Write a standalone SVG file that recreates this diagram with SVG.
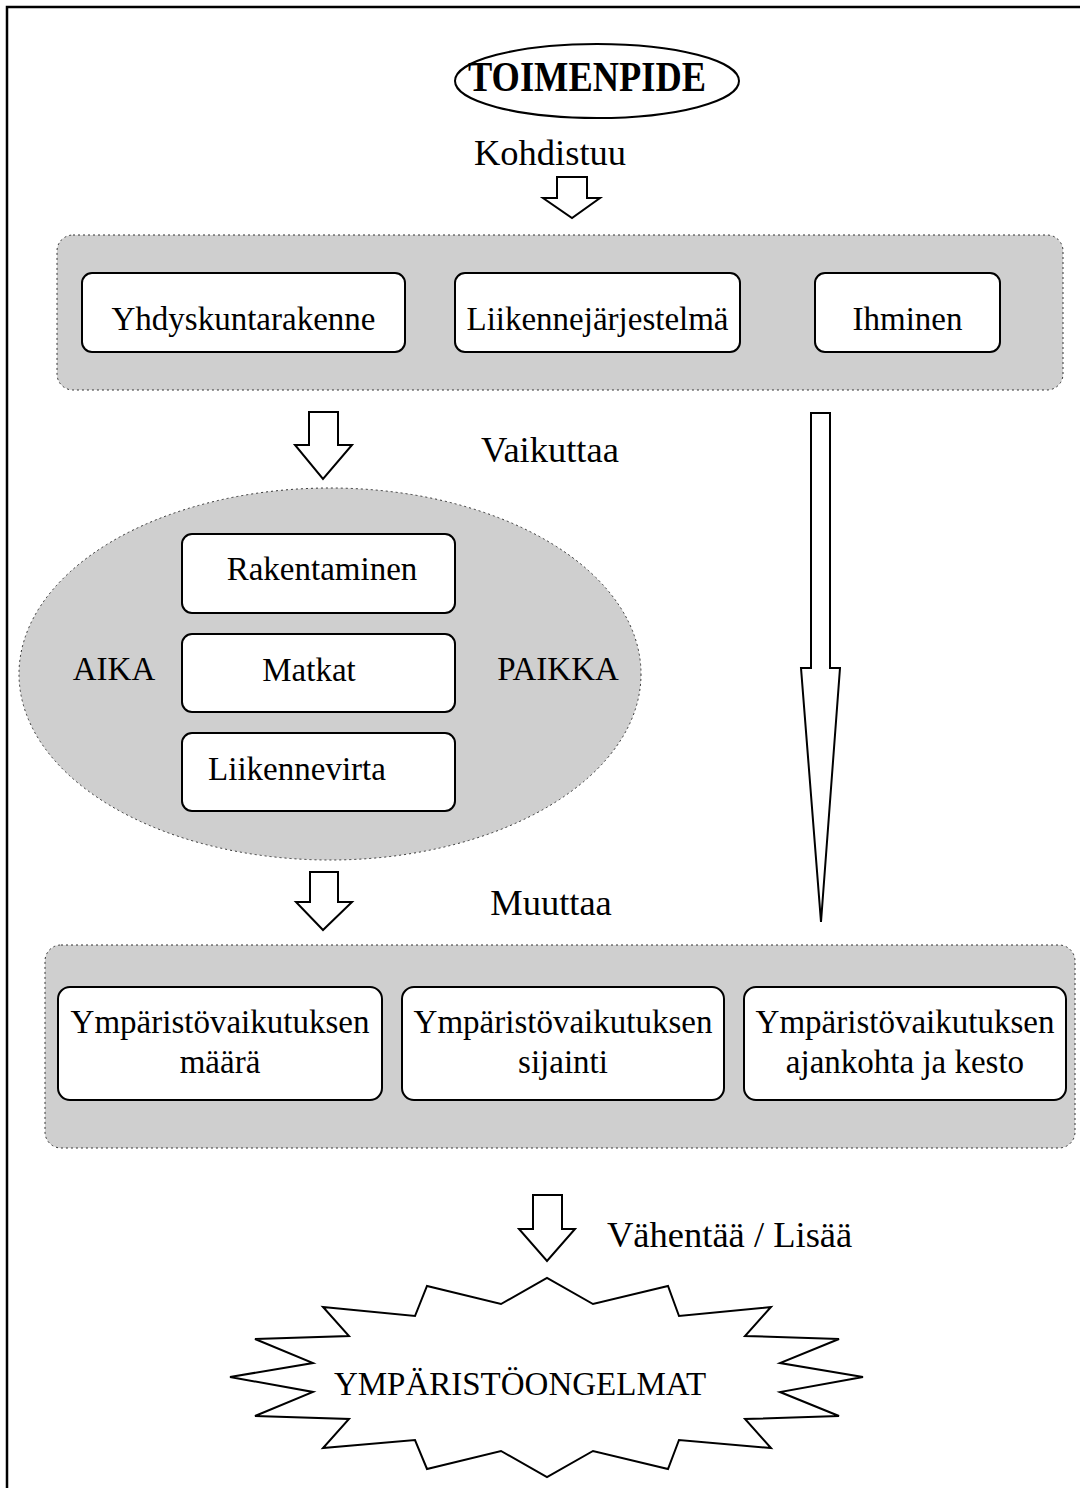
<svg xmlns="http://www.w3.org/2000/svg" width="1080" height="1488" viewBox="0 0 1080 1488">
<style>
text{font-family:"Liberation Serif","Times New Roman",serif;fill:#000}
.lbl{font-size:36.5px}
.box{font-size:33px}
.grp{fill:#cfcfcf;stroke:#333;stroke-width:1;stroke-dasharray:2 3}
.node{fill:#fff;stroke:#000;stroke-width:2}
.arr{fill:#fff;stroke:#000;stroke-width:2;stroke-linejoin:miter}
</style>
<rect width="1080" height="1488" fill="#fff"/>
<g id="frame"><path d="M7,1488 V7 H1080" fill="none" stroke="#000" stroke-width="2.5"/></g>

<g id="toimenpide">
<ellipse cx="597" cy="81" rx="142" ry="37" fill="#fff" stroke="#000" stroke-width="2"/>
<text x="587" y="91" text-anchor="middle" font-size="42" font-weight="bold" textLength="238" lengthAdjust="spacingAndGlyphs">TOIMENPIDE</text>
</g>

<g id="labels">
<text class="lbl" x="550" y="165" text-anchor="middle">Kohdistuu</text>
<text class="lbl" x="550" y="462" text-anchor="middle">Vaikuttaa</text>
<text class="lbl" x="551" y="915" text-anchor="middle">Muuttaa</text>
<text class="lbl" x="607" y="1247">Vähentää / Lisää</text>
</g>

<g id="group-top">
<rect class="grp" x="57" y="235" width="1006" height="155" rx="16"/>
</g>
<g id="yhdyskuntarakenne">
<rect class="node" x="82" y="273" width="323" height="79" rx="10"/>
<text class="box" x="243.5" y="330" text-anchor="middle">Yhdyskuntarakenne</text>
</g>
<g id="liikennejarjestelma">
<rect class="node" x="455" y="273" width="285" height="79" rx="10"/>
<text class="box" x="597.5" y="330" text-anchor="middle">Liikennejärjestelmä</text>
</g>
<g id="ihminen">
<rect class="node" x="815" y="273" width="185" height="79" rx="10"/>
<text class="box" x="907.5" y="330" text-anchor="middle">Ihminen</text>
</g>

<g id="group-mid">
<ellipse class="grp" cx="330" cy="674" rx="311" ry="186"/>
<text class="box" x="114" y="680" text-anchor="middle">AIKA</text>
<text class="box" x="558" y="680" text-anchor="middle">PAIKKA</text>
</g>
<g id="rakentaminen">
<rect class="node" x="182" y="534" width="273" height="79" rx="10"/>
<text class="box" x="322" y="580" text-anchor="middle">Rakentaminen</text>
</g>
<g id="matkat">
<rect class="node" x="182" y="634" width="273" height="78" rx="10"/>
<text class="box" x="309" y="681" text-anchor="middle">Matkat</text>
</g>
<g id="liikennevirta">
<rect class="node" x="182" y="733" width="273" height="78" rx="10"/>
<text class="box" x="297" y="780" text-anchor="middle">Liikennevirta</text>
</g>

<g id="group-bottom">
<rect class="grp" x="45" y="945" width="1030" height="203" rx="16"/>
</g>
<g id="maara">
<rect class="node" x="58" y="987" width="324" height="113" rx="12"/>
<text class="box" x="220" y="1033" text-anchor="middle">Ympäristövaikutuksen</text>
<text class="box" x="220" y="1073" text-anchor="middle">määrä</text>
</g>
<g id="sijainti">
<rect class="node" x="402" y="987" width="322" height="113" rx="12"/>
<text class="box" x="563" y="1033" text-anchor="middle">Ympäristövaikutuksen</text>
<text class="box" x="563" y="1073" text-anchor="middle">sijainti</text>
</g>
<g id="ajankohta">
<rect class="node" x="744" y="987" width="322" height="113" rx="12"/>
<text class="box" x="905" y="1033" text-anchor="middle">Ympäristövaikutuksen</text>
<text class="box" x="905" y="1073" text-anchor="middle">ajankohta ja kesto</text>
</g>

<g id="ongelmat">
<polygon fill="#fff" stroke="#000" stroke-width="2" points="230,1377 313,1363 255,1339 349,1336 323,1307 415,1316 427,1286 501,1304 547,1278 593,1304 668,1286 679,1316 771,1307 745,1336 839,1339 780,1363 863,1377 780,1392 839,1416 745,1419 771,1448 679,1440 668,1469 593,1451 547,1477 501,1451 427,1469 415,1440 323,1448 349,1419 255,1416 313,1392"/>
<text x="520" y="1395" text-anchor="middle" font-size="33">YMPÄRISTÖONGELMAT</text>
</g>

<g id="connectors">
<polygon class="arr" points="557,177 587,177 587,198 600,198 572,218 543,198 557,198"/>
<polygon class="arr" points="309,412 338,412 338,445 352,445 323,479 295,445 309,445"/>
<polygon class="arr" points="310,872 338,872 338,902 352,902 323,930 296,902 310,902"/>
<polygon class="arr" points="533,1195 562,1195 562,1229 575,1229 547,1261 519,1229 533,1229"/>
<polygon class="arr" points="811,413 830,413 830,668 840,668 821,922 801,668 811,668"/>
</g>
</svg>
